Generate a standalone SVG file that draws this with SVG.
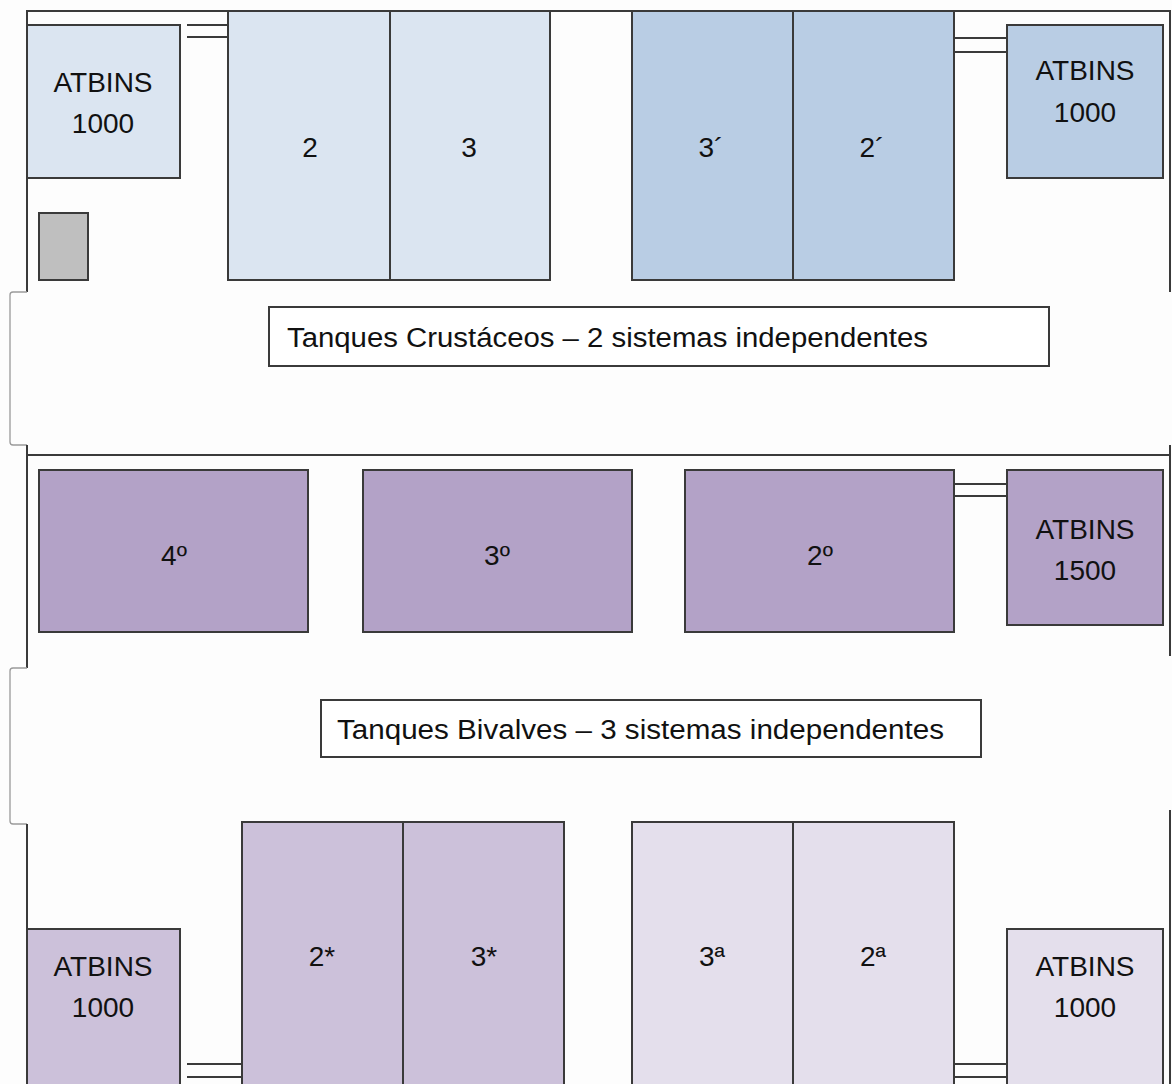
<svg xmlns="http://www.w3.org/2000/svg" width="1172" height="1084" viewBox="0 0 1172 1084">
<style>
.box{stroke:#3a3a3a;stroke-width:2}
.wall{stroke:#3a3a3a;stroke-width:2;fill:none}
.notch{stroke:#9a9a9a;stroke-width:1.3;fill:none}
.pipe{stroke:#3a3a3a;stroke-width:2}
.t{font-family:"Liberation Sans",Arial,sans-serif;font-size:28px;fill:#111;text-anchor:middle}
.lbl{font-family:"Liberation Sans",Arial,sans-serif;font-size:27px;fill:#111}
.c1{fill:#dbe5f1}.c2{fill:#b9cde4}.c3{fill:#b3a2c7}.c4{fill:#ccc1da}.c5{fill:#e4dfec}
</style>
<rect width="1172" height="1084" fill="#fdfdfd"/>
<g id="walls">
<path class="wall" d="M27 292 V11 H1170 V292"/>
<path class="notch" d="M27 292 H13 Q10 292 10 295 V442 Q10 445 13 445 H27"/>
<path class="wall" d="M27 445 V668 M1170 445 V656 M27 455 H1170"/>
<path class="notch" d="M27 668 H13 Q10 668 10 671 V821 Q10 824 13 824 H27"/>
<path class="wall" d="M27 824 V1084 M1170 810 V1084"/>
</g>
<g id="connectors">
<line class="pipe" x1="187" y1="25" x2="228" y2="25"/><line class="pipe" x1="187" y1="37" x2="228" y2="37"/>
<line class="pipe" x1="954" y1="38" x2="1007" y2="38"/><line class="pipe" x1="954" y1="52" x2="1007" y2="52"/>
<line class="pipe" x1="954" y1="484" x2="1007" y2="484"/><line class="pipe" x1="954" y1="496" x2="1007" y2="496"/>
<line class="pipe" x1="187" y1="1064" x2="242" y2="1064"/><line class="pipe" x1="187" y1="1077" x2="242" y2="1077"/>
<line class="pipe" x1="954" y1="1064" x2="1007" y2="1064"/><line class="pipe" x1="954" y1="1077" x2="1007" y2="1077"/>
</g>
<g id="atbins-tl"><rect class="box c1" x="27" y="25" width="153" height="153"/><text class="t" x="103" y="92">ATBINS</text><text class="t" x="103" y="133">1000</text></g>
<g id="filter"><rect class="box" fill="#bfbfbf" x="39" y="213" width="49" height="67"/></g>
<g id="tank-2"><rect class="box c1" x="228" y="11" width="162" height="269"/><text class="t" x="310" y="157">2</text></g>
<g id="tank-3"><rect class="box c1" x="390" y="11" width="160" height="269"/><text class="t" x="469" y="157">3</text></g>
<g id="tank-3p"><rect class="box c2" x="632" y="11" width="161" height="269"/><text class="t" x="711" y="157">3´</text></g>
<g id="tank-2p"><rect class="box c2" x="793" y="11" width="161" height="269"/><text class="t" x="872" y="157">2´</text></g>
<g id="atbins-tr"><rect class="box c2" x="1007" y="25" width="156" height="153"/><text class="t" x="1085" y="80">ATBINS</text><text class="t" x="1085" y="122">1000</text></g>
<g id="label-crustaceos"><rect class="box" fill="#fff" x="269" y="307" width="780" height="59"/><text class="lbl" x="287" y="347" textLength="641" lengthAdjust="spacingAndGlyphs">Tanques Crustáceos – 2 sistemas independentes</text></g>
<g id="tank-4o"><rect class="box c3" x="39" y="470" width="269" height="162"/><text class="t" x="174" y="565">4º</text></g>
<g id="tank-3o"><rect class="box c3" x="363" y="470" width="269" height="162"/><text class="t" x="497" y="565">3º</text></g>
<g id="tank-2o"><rect class="box c3" x="685" y="470" width="269" height="162"/><text class="t" x="820" y="565">2º</text></g>
<g id="atbins-mr"><rect class="box c3" x="1007" y="470" width="156" height="155"/><text class="t" x="1085" y="539">ATBINS</text><text class="t" x="1085" y="580">1500</text></g>
<g id="label-bivalves"><rect class="box" fill="#fff" x="321" y="700" width="660" height="57"/><text class="lbl" x="337" y="739" textLength="607" lengthAdjust="spacingAndGlyphs">Tanques Bivalves – 3 sistemas independentes</text></g>
<g id="atbins-bl"><rect class="box c4" x="27" y="929" width="153" height="160"/><text class="t" x="103" y="976">ATBINS</text><text class="t" x="103" y="1017">1000</text></g>
<g id="tank-2s"><rect class="box c4" x="242" y="822" width="161" height="267"/><text class="t" x="322" y="966">2*</text></g>
<g id="tank-3s"><rect class="box c4" x="403" y="822" width="161" height="267"/><text class="t" x="484" y="966">3*</text></g>
<g id="tank-3a"><rect class="box c5" x="632" y="822" width="161" height="267"/><text class="t" x="712" y="966">3ª</text></g>
<g id="tank-2a"><rect class="box c5" x="793" y="822" width="161" height="267"/><text class="t" x="873" y="966">2ª</text></g>
<g id="atbins-br"><rect class="box c5" x="1007" y="929" width="156" height="160"/><text class="t" x="1085" y="976">ATBINS</text><text class="t" x="1085" y="1017">1000</text></g>
</svg>
